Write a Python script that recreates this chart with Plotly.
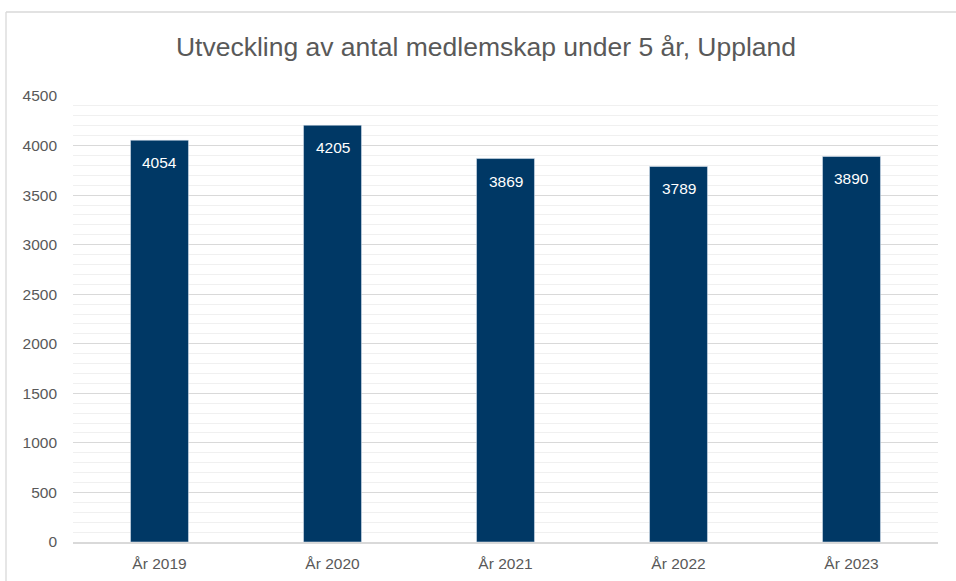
import plotly.graph_objects as go

categories = ["År 2019", "År 2020", "År 2021", "År 2022", "År 2023"]
values = [4054, 4205, 3869, 3789, 3890]
title_text = "Utveckling av antal medlemskap under 5 år, Uppland"

bar_color = "#003865"
text_color = "#595959"
font_family = "Liberation Sans, Arial, sans-serif"

fig = go.Figure()
fig.add_trace(go.Bar(
    x=categories, y=values, marker_color=bar_color, width=0.335,
    hoverinfo="x+y",
))

for c, v in zip(categories, values):
    fig.add_annotation(x=c, y=v, text=str(v), showarrow=False,
                       yanchor="top", yshift=-12,
                       font=dict(color="white", size=15.5, family=font_family))

W, H = 956, 581
ml, mr, mt, mb = 73, 18, 96, 39
pw, ph = W - ml - mr, H - mt - mb

def px_to_paper_x(px):
    return (px - ml) / pw

def py_to_paper_y(py):
    return (H - mb - py) / ph

fig.add_shape(type="line", xref="paper", yref="paper",
              x0=px_to_paper_x(6), x1=px_to_paper_x(6),
              y0=py_to_paper_y(12), y1=py_to_paper_y(590),
              line=dict(color="#d9d9d9", width=1.3))
fig.add_shape(type="line", xref="paper", yref="paper",
              x0=px_to_paper_x(6), x1=px_to_paper_x(970),
              y0=py_to_paper_y(12), y1=py_to_paper_y(12),
              line=dict(color="#d9d9d9", width=1.3))

fig.update_layout(
    width=W, height=H,
    margin=dict(l=ml, r=mr, t=mt, b=mb, autoexpand=False),
    paper_bgcolor="white", plot_bgcolor="white",
    title=dict(text=title_text, x=486 / W, xref="container", xanchor="center",
               y=1 - 47 / H, yanchor="middle",
               font=dict(size=26.5, color=text_color, family=font_family)),
    font=dict(family=font_family, color=text_color, size=15.5),
    showlegend=False,
    bargap=0.665,
)
fig.update_yaxes(range=[0, 4500], dtick=500, showgrid=True, gridcolor="#d9d9d9",
                 gridwidth=1, zeroline=False, showline=False, automargin=False,
                 tickfont=dict(size=15.5, color=text_color), ticks="", ticklabelstandoff=15,
                 minor=dict(dtick=100, showgrid=True, gridcolor="#f0f0f0", gridwidth=1))
fig.update_xaxes(showline=True, linecolor="#d9d9d9", linewidth=1.5, ticks="",
                 ticklabelstandoff=7, automargin=False,
                 tickfont=dict(size=15.5, color=text_color))

fig.write_html("out.html", config={"displayModeBar": False},
               post_script="document.body.style.margin='0';document.body.style.overflow='hidden';")
